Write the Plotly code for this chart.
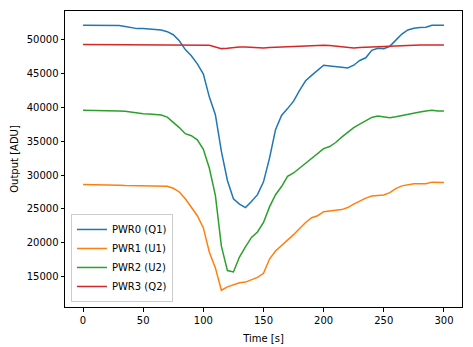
import plotly.graph_objects as go

time_s = list(range(0, 301, 5))

pwr0_q1 = [52100, 52100, 52050, 52100, 52100, 52050, 52050, 51900, 51700, 51600,
           51600, 51550, 51500, 51400, 51150, 50700, 49800, 48500, 47600, 46400,
           44900, 41500, 38900, 33500, 29200, 26500, 25700, 25200, 26100, 27100,
           29000, 32500, 36700, 38800, 39800, 40900, 42500, 43900, 44700, 45400,
           46200, 46100, 45950, 45900, 45800, 46200, 46900, 47300, 48400, 48700,
           48650, 49000, 49900, 50800, 51400, 51650, 51750, 51800, 52100, 52100, 52100]

pwr1_u1 = [28600, 28600, 28600, 28600, 28550, 28550, 28500, 28450, 28450, 28450,
           28450, 28450, 28450, 28400, 28350, 28050, 27500, 26500, 25300, 24000,
           22200, 18600, 16300, 13000, 13500, 13800, 14100, 14200, 14500, 14900,
           15500, 17600, 18800, 19600, 20300, 21200, 22100, 23000, 23700, 24000,
           24600, 24750, 24800, 24900, 25200, 25700, 26200, 26600, 26900, 27000,
           27050, 27400, 28000, 28400, 28600, 28700, 28700, 28700, 28950, 28900, 28900]

pwr2_u2 = [39550, 39550, 39550, 39550, 39500, 39500, 39450, 39400, 39250, 39150,
           39050, 39000, 38950, 38850, 38550, 37800, 37000, 36100, 35800, 35200,
           33800, 31000, 27000, 19500, 15900, 15700, 17900, 19400, 20800, 21600,
           23000, 25300, 27100, 28300, 29800, 30300, 31000, 31800, 32500, 33100,
           33900, 34200, 34800, 35600, 36300, 37000, 37500, 37950, 38500, 38700,
           38600, 38450, 38600, 38800, 39000, 39200, 39300, 39450, 39550, 39450, 39450]

pwr3_q2 = [49250, 49250, 49250, 49250, 49250, 49250, 49250, 49250, 49250, 49250,
           49250, 49250, 49250, 49250, 49250, 49250, 49250, 49250, 49250, 49250,
           49250, 49150, 48900, 48650, 48700, 48850, 48900, 48900, 48850, 48750,
           48750, 48800, 48850, 48900, 48950, 49000, 49050, 49100, 49150, 49200,
           49150, 49100, 49000, 48900, 48800, 48750, 48800, 48850, 48850, 48900,
           48900, 48950, 49050, 49150, 49200, 49200, 49200, 49200, 49200, 49200, 49200]

series = [
    ("PWR0 (Q1)", pwr0_q1, "#1f77b4"),
    ("PWR1 (U1)", pwr1_u1, "#ff7f0e"),
    ("PWR2 (U2)", pwr2_u2, "#2ca02c"),
    ("PWR3 (Q2)", pwr3_q2, "#d62728"),
]

x_ticks = [0, 50, 100, 150, 200, 250, 300]
y_ticks = [15000, 20000, 25000, 30000, 35000, 40000, 45000, 50000]

fig = go.Figure()
for name, vals, color in series:
    fig.add_trace(go.Scatter(x=time_s, y=vals, mode="lines", name=name,
                             line=dict(color=color, width=1.5)))

axis_common = dict(showline=True, linecolor="black", linewidth=1, mirror=True,
                   ticks="outside", ticklen=3.5, tickwidth=1, tickcolor="black",
                   showgrid=False, zeroline=False, automargin=False,
                   tickfont=dict(family="DejaVu Sans", size=10, color="black"))

fig.update_layout(
    width=473, height=347,
    margin=dict(l=65, r=11, t=11, b=40),
    paper_bgcolor="white", plot_bgcolor="white",
    font=dict(family="DejaVu Sans", size=10, color="black"),
    xaxis=dict(range=[-15, 315], tickvals=x_ticks, tickformat="d",
               title=dict(text="Time [s]", standoff=10, font=dict(size=10)),
               **axis_common),
    yaxis=dict(range=[10530, 54200], tickvals=y_ticks, tickformat="d",
               title=dict(text="Output [ADU]", standoff=6, font=dict(size=10)),
               **axis_common),
    legend=dict(x=0.015, y=0.017, xanchor="left", yanchor="bottom",
                bgcolor="rgba(255,255,255,0.8)", bordercolor="#cccccc", borderwidth=1,
                font=dict(size=10), tracegroupgap=0, itemwidth=30),
    showlegend=True,
)

fig.write_html("out.html")
